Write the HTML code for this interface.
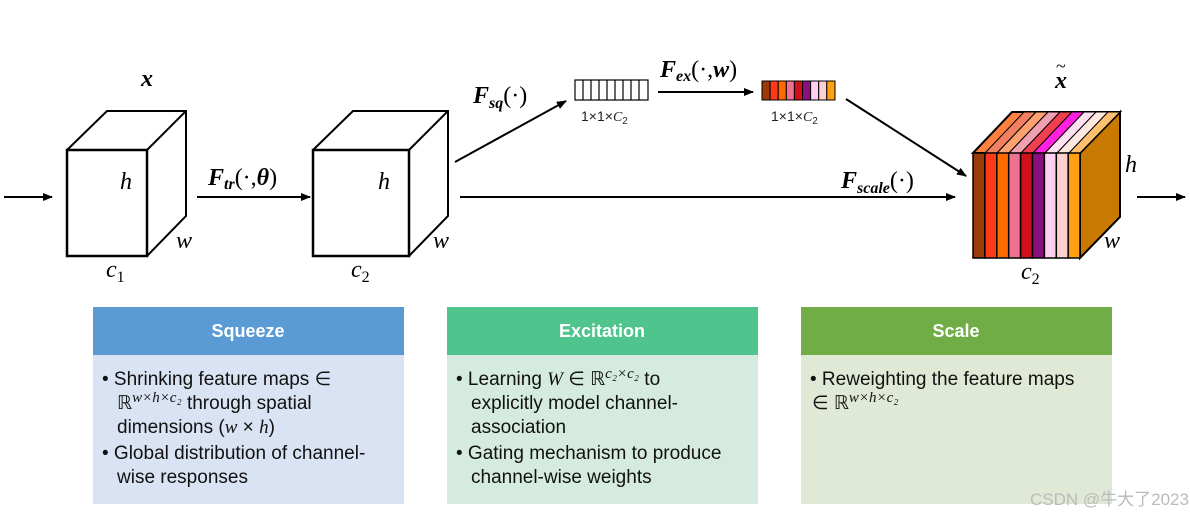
<!DOCTYPE html>
<html><head><meta charset="utf-8"><style>
body{margin:0;background:#fff;}
svg{font-family:"Liberation Sans",sans-serif;}
.m,.m text,.m tspan{font-family:"Liberation Serif",serif;font-style:italic;}
.b,.b text{font-family:"Liberation Sans",sans-serif;font-size:19px;fill:#111;}
.b .m{font-family:"Liberation Serif",serif;font-style:italic;}
</style></head><body>
<svg width="1190" height="518" xmlns="http://www.w3.org/2000/svg">
<defs><marker id="a" markerWidth="10" markerHeight="8" refX="9" refY="4" orient="auto" markerUnits="userSpaceOnUse"><path d="M0,0 L10,4 L0,8 z" fill="#000"/></marker></defs>
<g stroke="#000" stroke-width="2" fill="none">
<line x1="4" y1="197" x2="52" y2="197" marker-end="url(#a)"/>
<line x1="197" y1="197" x2="310" y2="197" marker-end="url(#a)"/>
<line x1="460" y1="197" x2="955" y2="197" marker-end="url(#a)"/>
<line x1="455" y1="162" x2="566" y2="101" marker-end="url(#a)"/>
<line x1="658" y1="92" x2="753" y2="92" marker-end="url(#a)"/>
<line x1="846" y1="99" x2="966" y2="176" marker-end="url(#a)"/>
<line x1="1137" y1="197" x2="1185" y2="197" marker-end="url(#a)"/>
<path d="M67,150 L107,111 L186,111 L186,216 L147,256 M147,150 L186,111"/>
<rect x="67" y="150" width="80" height="106" stroke-width="2.5"/>
<path d="M313,150 L353,111 L448,111 L448,216 L409,256 M409,150 L448,111"/>
<rect x="313" y="150" width="96" height="106" stroke-width="2.5"/>
</g>
<g stroke="#000" stroke-width="1.2">
<rect x="575" y="80" width="73" height="20" fill="#fff"/>
<line x1="583" y1="80" x2="583" y2="100"/><line x1="591" y1="80" x2="591" y2="100"/><line x1="599" y1="80" x2="599" y2="100"/><line x1="607" y1="80" x2="607" y2="100"/><line x1="615" y1="80" x2="615" y2="100"/><line x1="623" y1="80" x2="623" y2="100"/><line x1="631" y1="80" x2="631" y2="100"/><line x1="639" y1="80" x2="639" y2="100"/>
</g>
<g stroke="#000" stroke-width="1">
<rect x="762" y="81" width="8.1" height="19" fill="#9c3a0a"/>
<rect x="770.1" y="81" width="8.1" height="19" fill="#ff3a1a"/>
<rect x="778.2" y="81" width="8.1" height="19" fill="#ff6a00"/>
<rect x="786.3" y="81" width="8.1" height="19" fill="#f07090"/>
<rect x="794.4" y="81" width="8.1" height="19" fill="#d0101a"/>
<rect x="802.5" y="81" width="8.1" height="19" fill="#8a1080"/>
<rect x="810.6" y="81" width="8.1" height="19" fill="#ffd0f0"/>
<rect x="818.7" y="81" width="8.1" height="19" fill="#ffd0d0"/>
<rect x="826.8" y="81" width="8.2" height="19" fill="#ffa010"/>
</g>
<g stroke="#000" stroke-width="2">
<polygon points="1080,153 1120,112 1120,217 1080,258" fill="#c87a00"/>
<polygon points="973,153 1012,112 1120,112 1080,153" fill="#ff8040"/>
</g>
<g stroke="#000" stroke-width="1">
<polygon points="985,153 1024,112 1036,112 997,153" fill="#f08060"/>
<polygon points="997,153 1036,112 1048,112 1009,153" fill="#ffa070"/>
<polygon points="1009,153 1048,112 1060,112 1021,153" fill="#f0a0b0"/>
<polygon points="1021,153 1060,112 1072,112 1033,153" fill="#f04050"/>
<polygon points="1033,153 1072,112 1084,112 1045,153" fill="#ff20e0"/>
<polygon points="1045,153 1084,112 1096,112 1057,153" fill="#ffe0f0"/>
<polygon points="1057,153 1096,112 1108,112 1069,153" fill="#ffe8e0"/>
<polygon points="1069,153 1108,112 1120,112 1080,153" fill="#ffc070"/>
</g>
<g stroke="#000" stroke-width="1.5">
<rect x="973" y="153" width="11.9" height="105" fill="#9c3a0a"/>
<rect x="984.9" y="153" width="11.9" height="105" fill="#ff3a1a"/>
<rect x="996.8" y="153" width="11.9" height="105" fill="#ff6a00"/>
<rect x="1008.7" y="153" width="11.9" height="105" fill="#f07090"/>
<rect x="1020.6" y="153" width="11.9" height="105" fill="#d0101a"/>
<rect x="1032.5" y="153" width="11.9" height="105" fill="#8a1080"/>
<rect x="1044.4" y="153" width="11.9" height="105" fill="#ffd0f0"/>
<rect x="1056.3" y="153" width="11.9" height="105" fill="#ffd0d0"/>
<rect x="1068.2" y="153" width="11.8" height="105" fill="#ffa010"/>
</g>
<g class="m" font-size="24" fill="#000">
<text x="141" y="86" font-weight="bold">x</text>
<text x="120" y="189">h</text>
<text x="176" y="248">w</text>
<text x="106" y="277">c<tspan font-size="16" dy="5" style="font-style:normal">1</tspan></text>
<text x="208" y="185" font-weight="bold">F<tspan font-size="16" dy="4">tr</tspan><tspan dy="-4" style="font-style:normal" font-weight="normal">(·,</tspan>θ<tspan style="font-style:normal" font-weight="normal">)</tspan></text>
<text x="378" y="189">h</text>
<text x="433" y="248">w</text>
<text x="351" y="277">c<tspan font-size="16" dy="5" style="font-style:normal">2</tspan></text>
<text x="473" y="103" font-weight="bold">F<tspan font-size="16" dy="5">sq</tspan><tspan dy="-5" style="font-style:normal" font-weight="normal">(·)</tspan></text>
<text x="660" y="77" font-weight="bold">F<tspan font-size="16" dy="4">ex</tspan><tspan dy="-4" style="font-style:normal" font-weight="normal">(·,</tspan>w<tspan style="font-style:normal" font-weight="normal">)</tspan></text>
<text x="841" y="188" font-weight="bold">F<tspan font-size="16" dy="5">scale</tspan><tspan dy="-5" style="font-style:normal" font-weight="normal">(·)</tspan></text>
<text x="1055" y="88" font-weight="bold">x</text>
<text x="1056" y="72" style="font-style:normal" font-size="18">~</text>
<text x="1125" y="172">h</text>
<text x="1104" y="248">w</text>
<text x="1021" y="279">c<tspan font-size="16" dy="5" style="font-style:normal">2</tspan></text>
</g>
<g font-size="14" fill="#222">
<text x="581" y="121">1×1×<tspan class="m">C</tspan><tspan font-size="10" dy="3">2</tspan></text>
<text x="771" y="121">1×1×<tspan class="m">C</tspan><tspan font-size="10" dy="3">2</tspan></text>
</g>
<rect x="93" y="307" width="311" height="48" fill="#5b9bd5"/>
<rect x="93" y="355" width="311" height="149" fill="#dae3f3"/>
<rect x="447" y="307" width="311" height="48" fill="#4fc48c"/>
<rect x="447" y="355" width="311" height="149" fill="#d5ebe0"/>
<rect x="801" y="307" width="311" height="48" fill="#70ad47"/>
<rect x="801" y="355" width="311" height="149" fill="#e0e9d6"/>
<g fill="#fff" font-weight="bold" font-size="18" text-anchor="middle">
<text x="248" y="337">Squeeze</text>
<text x="602" y="337">Excitation</text>
<text x="956" y="337">Scale</text>
</g>
<g class="b">
<text x="102" y="385">• Shrinking feature maps ∈</text>
<text x="117" y="409">ℝ<tspan font-size="15" dy="-7" class="m">w×h×c₂</tspan><tspan dy="7"> through spatial</tspan></text>
<text x="117" y="433">dimensions (<tspan class="m">w</tspan> × <tspan class="m">h</tspan>)</text>
<text x="102" y="459">• Global distribution of channel-</text>
<text x="117" y="483">wise responses</text>
<text x="456" y="385">• Learning <tspan class="m">W</tspan> ∈ ℝ<tspan font-size="15" dy="-7" class="m">c₂×c₂</tspan><tspan dy="7"> to</tspan></text>
<text x="471" y="409">explicitly model channel-</text>
<text x="471" y="433">association</text>
<text x="456" y="459">• Gating mechanism to produce</text>
<text x="471" y="483">channel-wise weights</text>
<text x="810" y="385">• Reweighting the feature maps</text>
<text x="812" y="409">∈ ℝ<tspan font-size="15" dy="-7" class="m">w×h×c₂</tspan></text>
</g>
<text x="1030" y="505" font-size="17" fill="#bbb" font-family="Liberation Sans, Noto Sans CJK SC, sans-serif">CSDN @牛大了2023</text>
</svg>
</body></html>
